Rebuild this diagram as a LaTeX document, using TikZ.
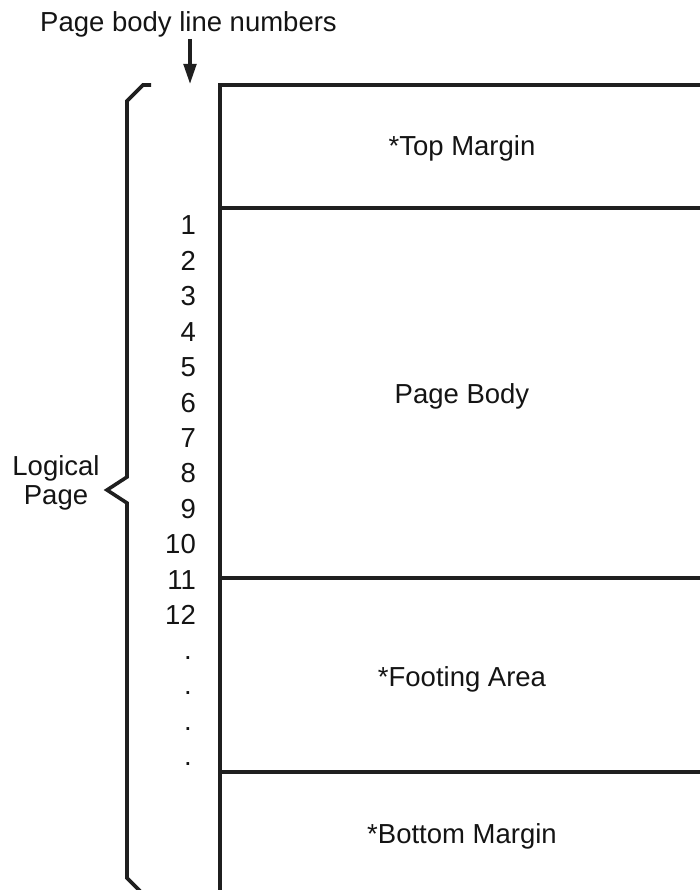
\documentclass[tikz,border=0pt]{standalone}
\usepackage{fontspec}
\setmainfont{Liberation Sans}
\usetikzlibrary{arrows.meta}
\begin{document}
\begin{tikzpicture}[x=1pt,y=-1pt,
  txt/.style={inner sep=0pt,font=\fontsize{27.5}{28.5}\selectfont,text=black!92},
  num/.style={txt,anchor=base east},
  dotm/.style={txt,anchor=base},
  rule/.style={line width=3.6pt,black!88},
  bracel/.style={line width=3.6pt,black!88,line join=miter},
  arr/.style={line width=3.4pt,black!88,-{Triangle[length=20pt,width=12.5pt]}}]
\useasboundingbox (0,0) rectangle (699,890);
% page box
\draw[rule] (710,85) -- (220,85) -- (220,900);
\draw[rule] (220,208) -- (710,208);
\draw[rule] (220,578) -- (710,578);
\draw[rule] (220,772) -- (710,772);
% region labels
\node[txt,anchor=base] (top) at (462,156) {*Top Margin};
\node[txt,anchor=base] (body) at (462,403) {Page Body};
\node[txt,anchor=base] (foot) at (462,686) {*Footing Area};
\node[txt,anchor=base] (bot) at (462,843) {*Bottom Margin};
% title and arrow
\node[txt,anchor=base] (lbl) at (188.5,32) {Page body line numbers};
\coordinate (tip) at (190,84);
\draw[arr] ([yshift=-1pt]tip |- lbl.south) -- (tip);
% line numbers
\foreach \n in {1,...,12}{
  \node[num] (n\n) at (196,{235+35.4*(\n-1)}) {\n};
}
\foreach \k in {1,...,4}{
  \node[dotm] (d\k) at (188,{624+35.4*\k}) {.};
}
% brace
\draw[bracel] (151,85) -- (143,85) -- (127,101) -- (127,477) -- (107,490) -- (127,503) -- (127,878) -- (140,891);
\coordinate (bracetip) at (107,490);
\node[txt,align=center,anchor=base] (lp) at (56,504) {Logical\\Page};
\end{tikzpicture}
\end{document}
